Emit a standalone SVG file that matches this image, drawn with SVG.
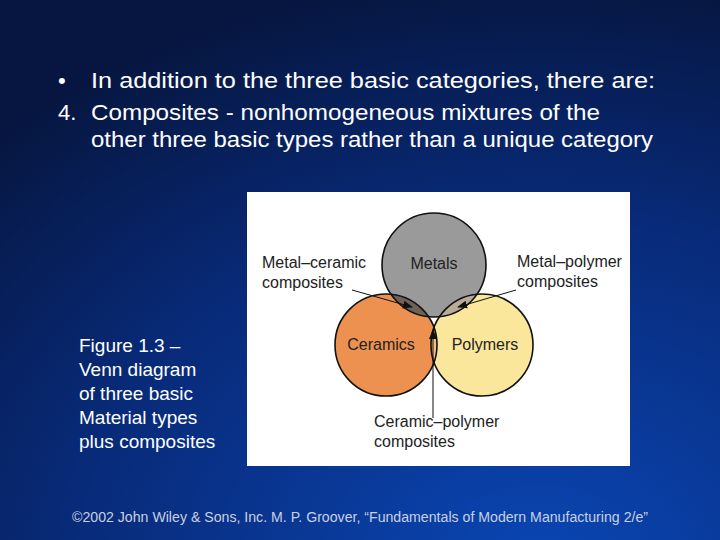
<svg xmlns="http://www.w3.org/2000/svg" width="720" height="540" viewBox="0 0 720 540">
<defs>
<radialGradient id="bg" cx="0.75" cy="1.05" r="1.1">
<stop offset="0" stop-color="#0a46b4"/><stop offset="0.6" stop-color="#082a78"/><stop offset="1" stop-color="#061640"/>
</radialGradient>
<marker id="ah" markerWidth="10" markerHeight="10" refX="9" refY="5" orient="auto" markerUnits="userSpaceOnUse"><path d="M0,1 L10,5 L0,9 Z" fill="#111"/></marker>
<clipPath id="cm"><circle cx="434" cy="265" r="52"/></clipPath>
<clipPath id="cc"><circle cx="386" cy="345" r="51"/></clipPath>
<clipPath id="cp"><circle cx="482" cy="345" r="51"/></clipPath>
</defs>
<style>
.w{fill:#fff;font-family:"Liberation Sans",Arial,sans-serif}
.t{font-size:22px}
.c{font-size:19px}
.l{fill:#222;font-family:"Liberation Sans",Arial,sans-serif;font-size:16px}
.o{stroke:#111;stroke-width:1.6;fill:none}
.ar{stroke:#111;stroke-width:1;marker-end:url(#ah)}
</style>
<rect width="720" height="540" fill="url(#bg)"/>
<g id="title">
<text class="w t" x="58" y="88">•</text><text class="w t" x="91" y="88" textLength="564" lengthAdjust="spacingAndGlyphs">In addition to the three basic categories, there are:</text>
<text class="w t" x="58" y="120">4.</text><text class="w t" x="91" y="120" textLength="509" lengthAdjust="spacingAndGlyphs">Composites ‐ nonhomogeneous mixtures of the</text>
<text class="w t" x="91" y="147" textLength="562" lengthAdjust="spacingAndGlyphs">other three basic types rather than a unique category</text>
</g>
<rect x="247" y="192" width="383" height="274" fill="#fff"/>
<g id="metals"><circle cx="434" cy="265" r="52" fill="#9a9a9a"/></g>
<g id="ceramics"><circle cx="386" cy="345" r="51" fill="#ec9150"/></g>
<g id="polymers"><circle cx="482" cy="345" r="51" fill="#fbe79c"/></g>
<g id="overlaps">
<g clip-path="url(#cm)"><circle cx="386" cy="345" r="51" fill="#6e6258"/><circle cx="482" cy="345" r="51" fill="#b9ab98"/></g>
<g clip-path="url(#cc)"><circle cx="482" cy="345" r="51" fill="#f7c186"/></g>
</g>
<g id="outlines">
<circle class="o" cx="434" cy="265" r="52"/><circle class="o" cx="386" cy="345" r="51"/><circle class="o" cx="482" cy="345" r="51"/>
</g>
<g id="labels">
<text class="l" x="434" y="269" text-anchor="middle">Metals</text>
<text class="l" x="381" y="350" text-anchor="middle">Ceramics</text>
<text class="l" x="485" y="350" text-anchor="middle">Polymers</text>
<text class="l" x="262" y="268">Metal–ceramic</text><text class="l" x="262" y="288">composites</text>
<text class="l" x="517" y="267">Metal–polymer</text><text class="l" x="517" y="287">composites</text>
<text class="l" x="374" y="427">Ceramic–polymer</text><text class="l" x="374" y="447">composites</text>
</g>
<g id="connectors">
<line class="ar" x1="352" y1="290" x2="412" y2="307"/>
<line class="ar" x1="516" y1="290" x2="458" y2="307"/>
<line class="ar" x1="433" y1="418" x2="433" y2="330"/>
</g>
<g id="caption">
<text class="w c" x="79" y="352">Figure 1.3 –</text>
<text class="w c" x="79" y="376">Venn diagram</text>
<text class="w c" x="79" y="400">of three basic</text>
<text class="w c" x="79" y="424">Material types</text>
<text class="w c" x="79" y="448">plus composites</text>
</g>
<text x="360" y="522" text-anchor="middle" font-family="Liberation Sans,Arial,sans-serif" font-size="14" fill="#c8d0e0" textLength="576" lengthAdjust="spacingAndGlyphs">©2002 John Wiley &amp; Sons, Inc. M. P. Groover, “Fundamentals of Modern Manufacturing 2/e”</text>
</svg>
